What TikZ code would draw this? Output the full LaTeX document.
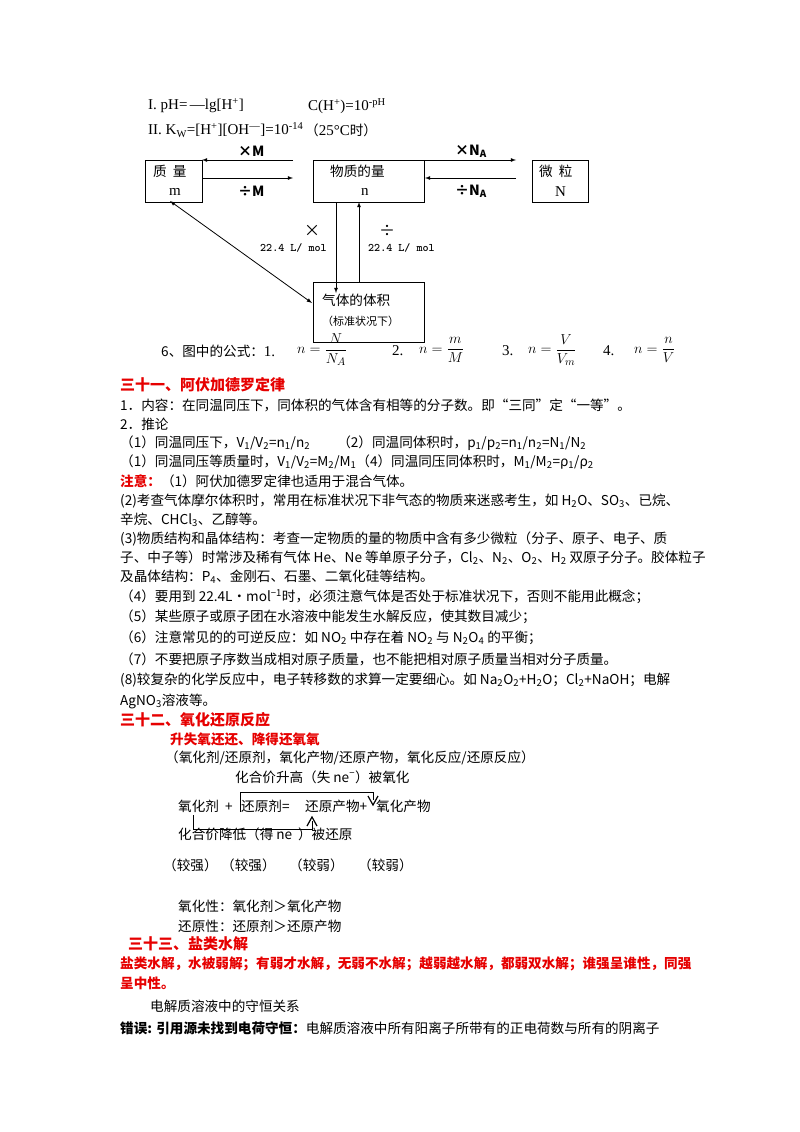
\documentclass[tikz,border=0pt]{standalone}
\usepackage{amsmath}
\usepackage{fontspec}
\setmainfont{Noto Sans CJK SC}
\newfontfamily\lat{Liberation Serif}
\newcommand{\sbs}[1]{\textsubscript{#1}}
\newcommand{\sps}[1]{\textsuperscript{#1}}
\definecolor{hred}{RGB}{230,0,0}
\begin{document}
\begin{tikzpicture}[x=1pt,y=-1pt,
  t/.style={anchor=west,inner sep=0pt,font=\fontsize{13.6}{16}\selectfont},
  h/.style={t,text=hred,font=\fontsize{15}{17}\selectfont\bfseries},
  hr/.style={t,text=hred,font=\fontsize{13.6}{16}\selectfont\bfseries},
  fm/.style={t,font=\fontsize{15}{17}\selectfont},
  bx/.style={draw,thick},
  ar/.style={-latex,thick}]
\useasboundingbox[fill=white] (0,0) rectangle (800,1132);
% top formulas
\node[fm] (f1) at (148,106) {\lat I. pH=\,—lg[H\sps{+}]};
\node[fm] (f2) at (308,106) {\lat C(H\sps{+})=10\sps{-pH}};
\node[fm] (f3) at (148,130) {\lat II. K\sbs{W}=[H\sps{+}][OH\sps{—}]=10\sps{-14}};
\node[t] (f3b) at (305,130) {（\lat\fontsize{15}{17}\selectfont 25°C\normalfont\fontsize{13.6}{16}\selectfont 时）};
% boxes
\draw[bx] (145,160) rectangle (202,202);
\node[t] (m1) at (153,171) {质\ \ 量};
\node[fm] (m2) at (169,192) {\lat m};
\draw[bx] (313,160) rectangle (424,202);
\node[t] (n1) at (330,171) {物质的量};
\node[fm] (n2) at (361,192) {\lat n};
\draw[bx] (532,160) rectangle (588,202);
\node[t] (w1) at (539,171) {微\ \ 粒};
\node[fm] (w2) at (555,192) {\lat N};
\draw[bx] (313,282) rectangle (424,342);
\node[t] (g1) at (322,300) {气体的体积};
\node[t,font=\fontsize{11}{13}\selectfont] (g2) at (322,321) {（标准状况下）};
% arrows
\coordinate (a1) at (293,160); \coordinate (a2) at (202,160);
\draw[ar] (a1) -- (a2);
\coordinate (b1) at (202,178); \coordinate (b2) at (293,178);
\draw[ar] (b1) -- (b2);
\coordinate (c1) at (425,160); \coordinate (c2) at (516,160);
\draw[ar] (c1) -- (c2);
\coordinate (d1) at (516,178); \coordinate (d2) at (425,178);
\draw[ar] (d1) -- (d2);
\node[t,font=\fontsize{14}{16}\selectfont\bfseries] (lm) at (238,151) {×M};
\node[t,font=\fontsize{14}{16}\selectfont\bfseries] (ldm) at (238,191) {÷M};
\node[t,font=\fontsize{14}{16}\selectfont\bfseries] (lna) at (455,151) {×N\sbs{A}};
\node[t,font=\fontsize{14}{16}\selectfont\bfseries] (ldna) at (455,191) {÷N\sbs{A}};
\coordinate (e1) at (336,202); \coordinate (e2) at (336,293);
\draw[ar] (e1) -- (e2);
\coordinate (k1) at (359,282); \coordinate (k2) at (359,202);
\draw[ar] (k1) -- (k2);
\coordinate (p1) at (170,201); \coordinate (p2) at (312,303);
\draw[latex-latex,thick] (p1) -- (p2);
\node[t,font=\fontsize{16}{18}\selectfont] (x1) at (304,231) {×};
\node[t,font=\fontsize{16}{18}\selectfont] (x2) at (379,231) {÷};
\node[t,font=\fontsize{11.5}{13}\selectfont\bfseries\ttfamily] (l1) at (260,248) {22.4 L/ mol};
\node[t,font=\fontsize{11.5}{13}\selectfont\bfseries\ttfamily] (l2) at (368,248) {22.4 L/ mol};
% formulas row
\node[t] (r0) at (161,351) {6、图中的公式：\lat\fontsize{15}{17}\selectfont 1.};
\node[fm] (r1) at (297,350) {$n=\dfrac{N}{N_A}$};
\node[fm] (r2) at (392,351) {\lat 2.};
\node[fm] (r3) at (419,350) {$n=\dfrac{m}{M}$};
\node[fm] (r4) at (502,351) {\lat 3.};
\node[fm] (r5) at (528,350) {$n=\dfrac{V}{V_m}$};
\node[fm] (r6) at (603,351) {\lat 4.};
\node[fm] (r7) at (634,350) {$n=\dfrac{n}{V}$};
% section 31
\node[h] (s31) at (120,385) {三十一、阿伏加德罗定律};
\node[t] (a01) at (120,405) {1．内容：在同温同压下，同体积的气体含有相等的分子数。即“三同”定“一等”。};
\node[t] (a02) at (120,424) {2．推论};
\node[t] (a03) at (120,443) {（1）同温同压下，V\sbs{1}/V\sbs{2}=n\sbs{1}/n\sbs{2}\qquad（2）同温同体积时，p\sbs{1}/p\sbs{2}=n\sbs{1}/n\sbs{2}=N\sbs{1}/N\sbs{2}};
\node[t] (a04) at (120,462) {（1）同温同压等质量时，V\sbs{1}/V\sbs{2}=M\sbs{2}/M\sbs{1}（4）同温同压同体积时，M\sbs{1}/M\sbs{2}=ρ\sbs{1}/ρ\sbs{2}};
\node[t] (a05) at (120,481) {\textcolor{hred}{\bfseries 注意：}（1）阿伏加德罗定律也适用于混合气体。};
\node[t] (a06) at (120,501) {(2)考查气体摩尔体积时，常用在标准状况下非气态的物质来迷惑考生，如 H\sbs{2}O、SO\sbs{3}、已烷、};
\node[t] (a07) at (120,520) {辛烷、CHCl\sbs{3}、乙醇等。};
\node[t] (a08) at (120,539) {(3)物质结构和晶体结构：考查一定物质的量的物质中含有多少微粒（分子、原子、电子、质};
\node[t] (a09) at (120,558) {子、中子等）时常涉及稀有气体 He、Ne 等单原子分子，Cl\sbs{2}、N\sbs{2}、O\sbs{2}、H\sbs{2} 双原子分子。胶体粒子};
\node[t] (a10) at (120,577) {及晶体结构：P\sbs{4}、金刚石、石墨、二氧化硅等结构。};
\node[t] (a11) at (120,597) {（4）要用到 22.4L·mol\sps{−1}时，必须注意气体是否处于标准状况下，否则不能用此概念；};
\node[t] (a12) at (120,617) {（5）某些原子或原子团在水溶液中能发生水解反应，使其数目减少；};
\node[t] (a13) at (120,638) {（6）注意常见的的可逆反应：如 NO\sbs{2} 中存在着 NO\sbs{2} 与 N\sbs{2}O\sbs{4} 的平衡；};
\node[t] (a14) at (120,659) {（7）不要把原子序数当成相对原子质量，也不能把相对原子质量当相对分子质量。};
\node[t] (a15) at (120,680) {(8)较复杂的化学反应中，电子转移数的求算一定要细心。如 Na\sbs{2}O\sbs{2}+H\sbs{2}O；Cl\sbs{2}+NaOH；电解};
\node[t] (a16) at (120,701) {AgNO\sbs{3}溶液等。};
% section 32
\node[h] (s32) at (120,720) {三十二、氧化还原反应};
\node[hr] (b01) at (170,739) {升失氧还还、降得还氧氧};
\node[t] (b02) at (165,758) {（氧化剂/还原剂，氧化产物/还原产物，氧化反应/还原反应）};
\node[t] (b03) at (235,777) {化合价升高（失 ne\sps{−}）被氧化};
\node[t] (b04) at (178,806) {氧化剂\ \ +};
\node[t] (b04b) at (241,806) {还原剂=};
\node[t] (b04c) at (305,806) {还原产物+};
\node[t] (b04d) at (376,806) {氧化产物};
\node[t] (b05) at (178,834) {化合价降低（得 ne\sps{−}）被还原};
\node[t] (k01) at (163,865) {（较强）};
\node[t] (k02) at (221,865) {（较强）};
\node[t] (k03) at (289,865) {（较弱）};
\node[t] (k04) at (358,865) {（较弱）};
\coordinate (u1) at (240,812); \coordinate (u2) at (240,792); \coordinate (u3) at (373,792);
\draw[thick] (u1) -- (u2) -- (u3) -- ++(0,8);
\draw[very thick] (368,796) -- (373,805) -- (378,796);
\coordinate (v1) at (193,815); \coordinate (v2) at (193,829); \coordinate (v3) at (312,829);
\draw[thick] (v1) -- (v2) -- (v3) -- ++(0,-8);
\draw[very thick] (307,826) -- (312,817) -- (317,826);
\node[t] (b07) at (178,906) {氧化性：氧化剂＞氧化产物};
\node[t] (b08) at (178,926) {还原性：还原剂＞还原产物};
% section 33
\node[h] (s33) at (128,944) {三十三、盐类水解};
\node[hr] (c01) at (120,964) {盐类水解，水被弱解；有弱才水解，无弱不水解；越弱越水解，都弱双水解；谁强呈谁性，同强};
\node[hr] (c02) at (120,983) {呈中性。};
\node[t] (c03) at (150,1006) {电解质溶液中的守恒关系};
\node[t] (c04) at (120,1028) {\bfseries 错误: 引用源未找到电荷守恒：\mdseries 电解质溶液中所有阳离子所带有的正电荷数与所有的阴离子};
\end{tikzpicture}
\end{document}
